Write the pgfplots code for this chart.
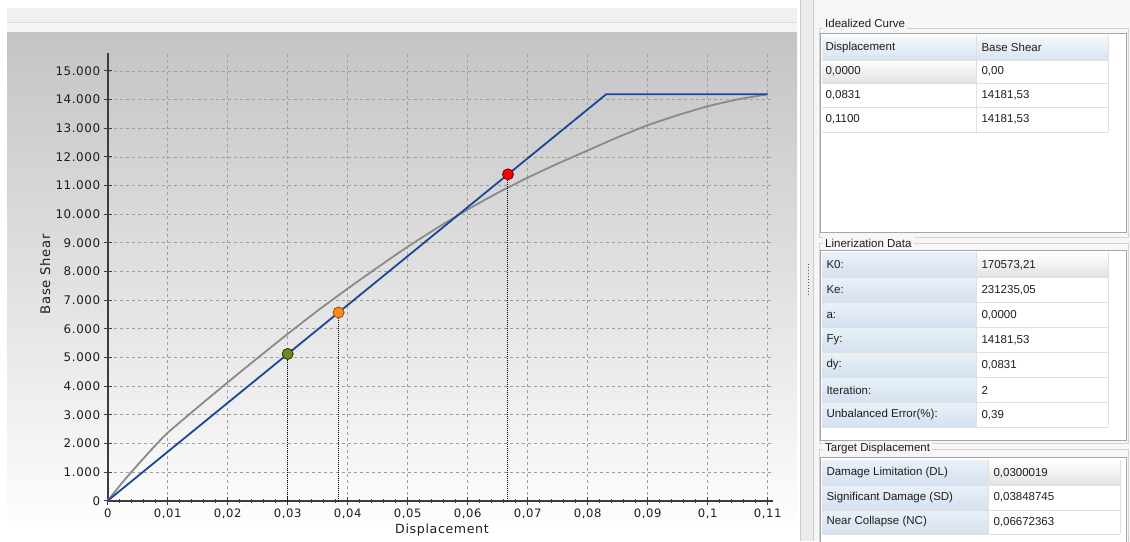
\documentclass[border=0pt]{standalone}
\usepackage{pgfplots}
\pgfplotsset{compat=1.18}
\usepackage{fontspec}
\setmainfont{DejaVu Sans}
\newfontfamily\panelfont{Liberation Sans}
\newfontfamily\labelfont[LetterSpace=5]{DejaVu Sans}
\definecolor{blueline}{RGB}{30,70,152}
\definecolor{grayline}{RGB}{138,138,138}
\definecolor{axisc}{RGB}{60,60,60}
\definecolor{gridc}{RGB}{158,158,158}
\definecolor{hdrtop}{RGB}{246,249,253}
\definecolor{hdrbot}{RGB}{216,228,242}
\definecolor{lbltop}{RGB}{234,241,249}
\definecolor{lblbot}{RGB}{212,225,240}
\definecolor{selc}{RGB}{226,226,226}
\definecolor{cellline}{RGB}{224,224,224}
\definecolor{boxline}{RGB}{165,165,165}
\definecolor{panelbg}{RGB}{246,246,246}
\definecolor{txt}{RGB}{30,30,30}
\definecolor{dlgreen}{RGB}{112,138,30}
\definecolor{sdorange}{RGB}{255,140,30}
\definecolor{ncred}{RGB}{250,0,0}
\definecolor{band1}{RGB}{240,240,240}
\definecolor{band2}{RGB}{244,244,244}
\definecolor{bandline}{RGB}{218,218,218}
\definecolor{gradtop}{RGB}{196,196,196}
\definecolor{gradbot}{RGB}{253,253,253}
\definecolor{sepc}{RGB}{236,236,236}
\definecolor{sepline}{RGB}{202,202,202}
\definecolor{handle}{RGB}{80,80,80}
\definecolor{grpline}{RGB}{210,210,210}
\begin{document}
\begin{tikzpicture}
\useasboundingbox (0,0) rectangle (1130pt,-541pt);
\begin{scope}[x=1pt,y=-1pt]
\fill[white] (0,0) rectangle (1130,541);
% chart header band
\fill[band1] (7,8) rectangle (797,22);
\draw[bandline] (7,22.5) -- (797,22.5);
\fill[band2] (7,23) rectangle (797,32);
% chart gradient
\shade[top color=gradtop, bottom color=gradbot] (7,32) rectangle (797,522);
% separator
\fill[sepc] (800,0) rectangle (813,541);
\draw[sepline] (800.5,0) -- (800.5,541);
\draw[sepline] (813.5,0) -- (813.5,541);
\foreach \yy in {264,267,...,294} {\fill[handle] (807.5,\yy) rectangle (808.5,\yy+1);}
% panel
\fill[panelbg] (814,0) rectangle (1130,541);
\begin{scope}[font=\panelfont\fontsize{11.5}{13}\selectfont, text=txt]
% ---------- Idealized Curve
\draw[grpline] (819,28) rectangle (1128,237);
\draw[boxline, fill=white] (820.5,33.5) rectangle (1126.5,232);
\shade[top color=hdrtop, bottom color=hdrbot] (822,35) rectangle (1108,60);
\shade[top color=white, bottom color=selc] (822,60) rectangle (976,83);
\foreach \yy in {60,83,107,132} {\draw[cellline] (822,\yy) -- (1108,\yy);}
\draw[cellline] (976.5,35) -- (976.5,132);
\draw[cellline] (1108,35) -- (1108,132);
\node[anchor=west, fill=panelbg, inner sep=2pt] at (823,23) {Idealized Curve};
\node[anchor=west] at (822,47.5) {Displacement};
\node[anchor=west] at (978,47.5) {Base Shear};
\node[anchor=west] at (822,71.5) {0,0000};
\node[anchor=west] at (978,71.5) {0,00};
\node[anchor=west] at (822,95) {0,0831};
\node[anchor=west] at (978,95) {14181,53};
\node[anchor=west] at (822,119.5) {0,1100};
\node[anchor=west] at (978,119.5) {14181,53};
% ---------- Linerization Data
\draw[grpline] (819,243) rectangle (1128,443);
\draw[boxline, fill=white] (820.5,250.5) rectangle (1126.5,440);
\foreach \ya/\yb in {252/277,277/302,302/327,327/352,352/377,377/402,402/427} {
  \shade[top color=lbltop, bottom color=lblbot] (822,\ya) rectangle (976,\yb);
}
\shade[top color=white, bottom color=selc] (977,252) rectangle (1108,277);
\foreach \yy in {277,302,327,352,377,402,427} {\draw[cellline] (822,\yy) -- (1108,\yy);}
\draw[cellline] (976.5,252) -- (976.5,427);
\draw[cellline] (1108,252) -- (1108,427);
\node[anchor=west, fill=panelbg, inner sep=2pt] at (823,243) {Linerization Data};
\node[anchor=west] at (823,265) {K0:};
\node[anchor=west] at (978,265) {170573,21};
\node[anchor=west] at (823,290) {Ke:};
\node[anchor=west] at (978,290) {231235,05};
\node[anchor=west] at (823,315) {a:};
\node[anchor=west] at (978,315) {0,0000};
\node[anchor=west] at (823,340) {Fy:};
\node[anchor=west] at (978,340) {14181,53};
\node[anchor=west] at (823,365) {dy:};
\node[anchor=west] at (978,365) {0,0831};
\node[anchor=west] at (823,390) {Iteration:};
\node[anchor=west] at (978,390) {2};
\node[anchor=west] at (823,415) {Unbalanced Error(\%):};
\node[anchor=west] at (978,415) {0,39};
% ---------- Target Displacement
\draw[grpline] (819,449) rectangle (1128,545);
\draw[boxline, fill=white] (820.5,457.5) rectangle (1126.5,545);
\foreach \ya/\yb in {460/485,485/510,510/534} {
  \shade[top color=lbltop, bottom color=lblbot] (822,\ya) rectangle (988,\yb);
}
\shade[top color=white, bottom color=selc] (989,460) rectangle (1120,485);
\foreach \yy in {485,510,534} {\draw[cellline] (822,\yy) -- (1120,\yy);}
\draw[cellline] (988.5,460) -- (988.5,534);
\draw[cellline] (1120,460) -- (1120,534);
\node[anchor=west, fill=panelbg, inner sep=2pt] at (823,449) {Target Displacement};
\node[anchor=west] at (823,473) {Damage Limitation (DL)};
\node[anchor=west] at (990,473) {0,0300019};
\node[anchor=west] at (823,497.5) {Significant Damage (SD)};
\node[anchor=west] at (990,497.5) {0,03848745};
\node[anchor=west] at (823,522) {Near Collapse (NC)};
\node[anchor=west] at (990,522) {0,06672363};
\end{scope}
\end{scope}

\begin{axis}[
  at={(107.7pt,-500.7pt)}, anchor=south west,
  scale only axis, width=665.3pt, height=447.7pt,
  xmin=0, xmax=0.1109, ymin=0, ymax=15620,
  scaled y ticks=false, scaled x ticks=false,
  axis lines=left,
  axis line style={-, line width=1.6pt, color=axisc},
  xtick={0,0.01,0.02,0.03,0.04,0.05,0.06,0.07,0.08,0.09,0.1,0.11},
  xticklabels={0,{0,01},{0,02},{0,03},{0,04},{0,05},{0,06},{0,07},{0,08},{0,09},{0,1},{0,11}},
  ytick={0,1000,2000,3000,4000,5000,6000,7000,8000,9000,10000,11000,12000,13000,14000,15000},
  yticklabels={0,{1.000},{2.000},{3.000},{4.000},{5.000},{6.000},{7.000},{8.000},{9.000},{10.000},{11.000},{12.000},{13.000},{14.000},{15.000}},
  minor x tick num=4,
  tick align=center,
  major tick length=8pt, minor tick length=4pt,
  tick style={axisc, line width=0.8pt},
  grid=major,
  major grid style={dash pattern=on 3pt off 3pt, gridc, line width=0.5pt},
  xticklabel style={font=\labelfont\fontsize{11.6}{13}\selectfont, text=txt, yshift=-1pt},
  yticklabel style={font=\labelfont\fontsize{11.9}{14}\selectfont, text=txt},
  xlabel={Displacement}, ylabel={Base Shear},
  every axis x label/.style={at={(axis description cs:0.5025,-0.065)}, anchor=center, font=\labelfont\fontsize{12.6}{15}\selectfont, text=txt},
  every axis y label/.style={at={(axis description cs:-0.094,0.506)}, anchor=center, rotate=90, font=\labelfont\fontsize{13.2}{15}\selectfont, text=txt},
  clip=false,
]
\addplot[grayline, line width=1.8pt, smooth, tension=0.3] coordinates {
(0,0) (0.0025,650) (0.005,1250) (0.0075,1830) (0.01,2370)
(0.015,3260) (0.02,4130) (0.025,4980) (0.03,5820) (0.035,6630)
(0.04,7400) (0.045,8140) (0.05,8860) (0.055,9530) (0.06,10160)
(0.065,10740) (0.07,11270) (0.075,11760) (0.08,12220) (0.085,12680)
(0.09,13100) (0.095,13450) (0.1,13760) (0.105,14000) (0.11,14181.53)};
\addplot[blueline, line width=1.8pt] coordinates {(0,0) (0.0831,14181.53) (0.11,14181.53)};
\addplot[black, line width=1pt, densely dotted] coordinates {(0.0300019,0) (0.0300019,5120.0)};
\addplot[black, line width=1pt, densely dotted] coordinates {(0.03848745,0) (0.03848745,6568.2)};
\addplot[black, line width=1pt, densely dotted] coordinates {(0.06672363,0) (0.06672363,11386.8)};
\addplot[only marks, mark=*, mark size=5.5pt, mark options={fill=dlgreen, draw=black!70!dlgreen, line width=0.8pt}] coordinates {(0.0300019,5120.0)};
\addplot[only marks, mark=*, mark size=5.5pt, mark options={fill=sdorange, draw=black!45!sdorange, line width=0.8pt}] coordinates {(0.03848745,6568.2)};
\addplot[only marks, mark=*, mark size=5.5pt, mark options={fill=ncred, draw=black!55!ncred, line width=0.8pt}] coordinates {(0.06672363,11386.8)};
\end{axis}
\end{tikzpicture}
\end{document}
